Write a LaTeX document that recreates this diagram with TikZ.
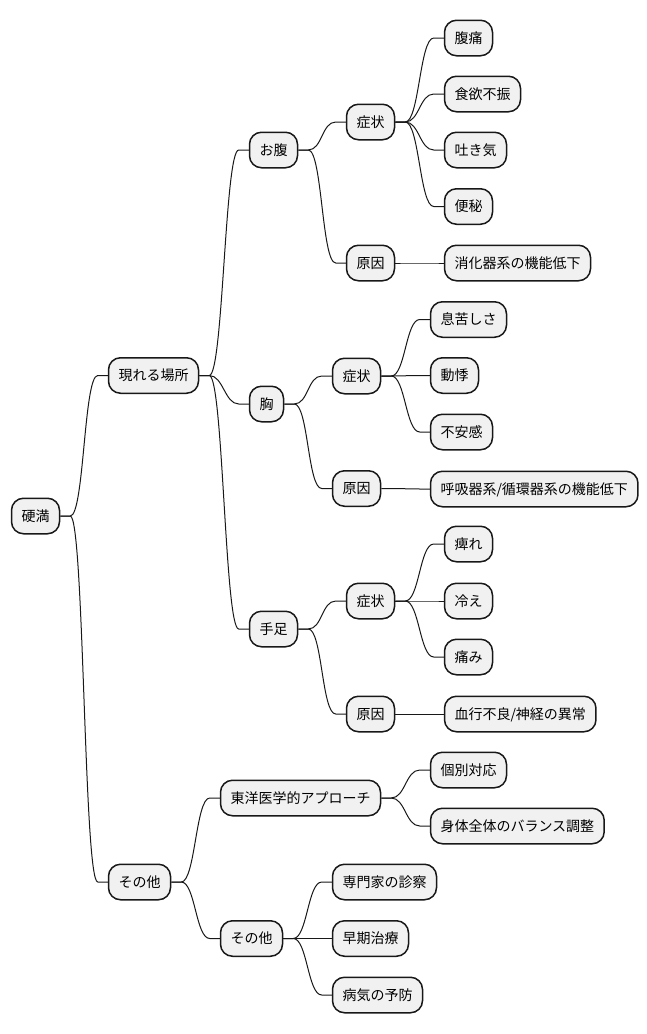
\documentclass[tikz,border=0pt]{standalone}
\usepackage{fontspec}
\setmainfont{Noto Sans CJK JP}
\definecolor{boxfill}{HTML}{F1F1F1}
\definecolor{boxline}{HTML}{181818}
\tikzset{
  mmnode/.style={draw=boxline, fill=boxfill, line width=1.5pt, rounded corners=12pt,
    anchor=west, inner xsep=10pt, inner ysep=0pt, minimum height=35.5pt,
    text height=12pt, text depth=1.5pt, font=\fontsize{14pt}{16pt}\selectfont},
  mmconn/.style={draw=boxline, line width=1pt}
}
\newcommand\mmlink[2]{\draw[mmconn] (#1.east) -- ++(10,0) .. controls +(14,0) and +(-14,0) .. ([xshift=-10pt]#2.west) -- (#2.west);}
\begin{document}
\begin{tikzpicture}[x=1pt,y=-1pt]
\useasboundingbox (0,0) rectangle (647,1034);
% level 0
\node[mmnode] (r) at (10.75,516) {硬満};
% level 1
\node[mmnode] (a) at (107.75,375.5) {現れる場所};
\node[mmnode] (b) at (107.75,882) {その他};
% level 2
\node[mmnode] (a1) at (248.75,150) {お腹};
\node[mmnode] (a2) at (248.75,404) {胸};
\node[mmnode] (a3) at (248.75,629) {手足};
\node[mmnode] (b1) at (219.75,798) {東洋医学的アプローチ};
\node[mmnode] (b2) at (219.75,938.5) {その他};
% level 3
\node[mmnode] (a1s) at (345.75,122) {症状};
\node[mmnode] (a1c) at (345.75,263) {原因};
\node[mmnode] (a2s) at (331.75,376) {症状};
\node[mmnode] (a2c) at (331.75,488.5) {原因};
\node[mmnode] (a3s) at (345.75,601) {症状};
\node[mmnode] (a3c) at (345.75,714) {原因};
\node[mmnode] (b1a) at (429.75,770) {個別対応};
\node[mmnode] (b1b) at (429.75,826) {身体全体のバランス調整};
\node[mmnode] (b2a) at (331.75,882) {専門家の診察};
\node[mmnode] (b2b) at (331.75,938.5) {早期治療};
\node[mmnode] (b2c) at (331.75,995) {病気の予防};
% level 4
\node[mmnode] (a1s1) at (443.75,38) {腹痛};
\node[mmnode] (a1s2) at (443.75,94) {食欲不振};
\node[mmnode] (a1s3) at (443.75,150) {吐き気};
\node[mmnode] (a1s4) at (443.75,206.5) {便秘};
\node[mmnode] (a1c1) at (443.75,263) {消化器系の機能低下};
\node[mmnode] (a2s1) at (429.75,319.5) {息苦しさ};
\node[mmnode] (a2s2) at (429.75,375.5) {動悸};
\node[mmnode] (a2s3) at (429.75,432) {不安感};
\node[mmnode] (a2c1) at (429.75,489) {呼吸器系/循環器系の機能低下};
\node[mmnode] (a3s1) at (443.75,544) {痺れ};
\node[mmnode] (a3s2) at (443.75,601) {冷え};
\node[mmnode] (a3s3) at (443.75,657) {痛み};
\node[mmnode] (a3c1) at (443.75,714) {血行不良/神経の異常};
% connectors
\mmlink{r}{a}
\mmlink{r}{b}
\mmlink{a}{a1}
\mmlink{a}{a2}
\mmlink{a}{a3}
\mmlink{a1}{a1s}
\mmlink{a1}{a1c}
\mmlink{a1s}{a1s1}
\mmlink{a1s}{a1s2}
\mmlink{a1s}{a1s3}
\mmlink{a1s}{a1s4}
\mmlink{a1c}{a1c1}
\mmlink{a2}{a2s}
\mmlink{a2}{a2c}
\mmlink{a2s}{a2s1}
\mmlink{a2s}{a2s2}
\mmlink{a2s}{a2s3}
\mmlink{a2c}{a2c1}
\mmlink{a3}{a3s}
\mmlink{a3}{a3c}
\mmlink{a3s}{a3s1}
\mmlink{a3s}{a3s2}
\mmlink{a3s}{a3s3}
\mmlink{a3c}{a3c1}
\mmlink{b}{b1}
\mmlink{b}{b2}
\mmlink{b1}{b1a}
\mmlink{b1}{b1b}
\mmlink{b2}{b2a}
\mmlink{b2}{b2b}
\mmlink{b2}{b2c}
\end{tikzpicture}
\end{document}
